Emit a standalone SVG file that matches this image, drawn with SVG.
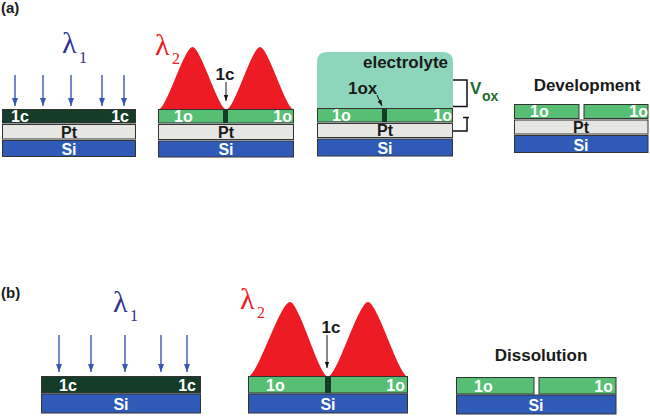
<svg xmlns="http://www.w3.org/2000/svg" width="650" height="417" viewBox="0 0 650 417">
<defs>
<marker id="bh" markerUnits="userSpaceOnUse" markerWidth="8" markerHeight="8" viewBox="0 0 8 6" refX="8" refY="3" orient="auto"><path d="M0,0 L8,3 L0,6 z" fill="#3a55b4"/></marker>
<marker id="kh" markerUnits="userSpaceOnUse" markerWidth="6" markerHeight="6" viewBox="0 0 7 5" refX="7" refY="2.5" orient="auto"><path d="M0,0 L7,2.5 L0,5 z" fill="#111"/></marker>
<style>
.t{font-family:"Liberation Sans",Arial,sans-serif;font-weight:bold}
.lw{font-size:16px;fill:#fff}
.lb{font-size:16px;fill:#1a1a1a}
.h{font-size:17px;fill:#1a1a1a}
.lam{font-family:"Liberation Serif","Times New Roman",serif;font-size:30px}
.sub{font-family:"Liberation Serif","Times New Roman",serif;font-size:16px}
.c1{fill:#143c28;stroke:#333;stroke-width:1}
.o1{fill:#57bf74;stroke:#333;stroke-width:1}
.pt{fill:#e6e6e2;stroke:#333;stroke-width:1}
.si{fill:#2e5bb8;stroke:#333;stroke-width:1}
.stripe{fill:#143c28}
.ba{stroke:#3a55b4;stroke-width:1.4;fill:none;marker-end:url(#bh)}
.ka{stroke:#111;stroke-width:1;fill:none;marker-end:url(#kh)}
.gauss{fill:#ed1c24}
.brk{stroke:#111;stroke-width:1.5;fill:none}
</style>
</defs>

<text class="t" x="1" y="13" font-size="15" fill="#1a1a1a">(a)</text>
<text class="t" x="1" y="298" font-size="15" fill="#1a1a1a">(b)</text>

<!-- Panel a1 -->
<g id="a1">
<text class="lam" x="62" y="53" fill="#2e3192">λ</text><text class="sub" x="79" y="63" fill="#2e3192">1</text>
<rect class="c1" x="2.5" y="109.5" width="133" height="13.5"/>
<rect class="pt" x="2.5" y="124.5" width="133" height="14.5"/>
<rect class="si" x="2.5" y="140.5" width="133" height="16"/>
<text class="t lw" x="11" y="121.5">1c</text>
<text class="t lw" x="129" y="121.5" text-anchor="end">1c</text>
<text class="t lb" x="69" y="137.5" text-anchor="middle">Pt</text>
<text class="t lw" x="69" y="154.5" text-anchor="middle">Si</text>
</g>

<!-- Panel a2 -->
<g id="a2">
<text class="lam" x="155" y="55" fill="#ed1c24">λ</text><text class="sub" x="172" y="64" fill="#ed1c24">2</text>
<path class="gauss" d="M158.5,109.5 C166.4,109.5 184.3,47 192.5,47 C200.7,47 218.6,109.5 226.5,109.5 C234.3,109.5 251.9,47 260,47 C268.2,47 286.1,109.5 294,109.5 Z"/>
<rect class="o1" x="158.5" y="109.5" width="135" height="13.5"/>
<rect class="stripe" x="223" y="110" width="5" height="13"/>
<rect class="pt" x="158.5" y="124.5" width="135" height="15"/>
<rect class="si" x="158.5" y="141" width="135" height="16"/>
<text class="t lw" x="174" y="121.5">1o</text>
<text class="t lw" x="292" y="121.5" text-anchor="end">1o</text>
<text class="t lb" x="226" y="137.5" text-anchor="middle">Pt</text>
<text class="t lw" x="226" y="154.5" text-anchor="middle">Si</text>
<text class="t h" x="225" y="80" text-anchor="middle" font-size="16">1c</text>
</g>

<!-- Panel a3 -->
<g id="a3">
<path d="M317,108 V62 Q317,52 327,52 H443 Q453,52 453,62 V108 Z" fill="#8ed6bb"/>
<text class="t h" x="448" y="68" text-anchor="end">electrolyte</text>
<text class="t h" x="348" y="94">1ox</text>
<rect class="o1" x="317.5" y="108.5" width="135" height="13.5"/>
<rect class="stripe" x="382" y="109" width="5" height="13"/>
<rect class="pt" x="317.5" y="123.5" width="135" height="14"/>
<rect class="si" x="317.5" y="139" width="135" height="17"/>
<text class="t lw" x="332" y="120.5">1o</text>
<text class="t lw" x="452" y="120.5" text-anchor="end">1o</text>
<text class="t lb" x="385" y="135.5" text-anchor="middle">Pt</text>
<text class="t lw" x="385" y="153.5" text-anchor="middle">Si</text>
<path class="brk" d="M453,80 H467 V106.5 H453"/>
<path class="brk" d="M463,117.5 H469 M467,117.5 V131 H453"/>
<text class="t" x="470" y="94" font-size="17" fill="#1a6b2f">V</text><text class="t" x="482" y="101" font-size="14" fill="#1a6b2f">ox</text>
</g>

<!-- Panel a4 -->
<g id="a4">
<text class="t h" x="587" y="91" text-anchor="middle">Development</text>
<rect class="o1" x="514.5" y="104.5" width="64.5" height="14"/>
<rect class="o1" x="584" y="104.5" width="64" height="14"/>
<rect class="pt" x="514.5" y="120" width="133.5" height="14"/>
<rect class="si" x="514.5" y="135.5" width="133.5" height="17"/>
<text class="t lw" x="530" y="117">1o</text>
<text class="t lw" x="648" y="117" text-anchor="end">1o</text>
<text class="t lb" x="581" y="132.5" text-anchor="middle">Pt</text>
<text class="t lw" x="581" y="150.5" text-anchor="middle">Si</text>
</g>

<!-- Panel b1 -->
<g id="b1">
<text class="lam" x="113" y="312" fill="#2e3192">λ</text><text class="sub" x="130" y="321" fill="#2e3192">1</text>
<rect class="c1" x="41.5" y="376.5" width="159" height="16.5"/>
<rect class="si" x="41.5" y="394" width="159" height="19"/>
<text class="t lw" x="59" y="390.5" font-size="17">1c</text>
<text class="t lw" x="196" y="390.5" text-anchor="end" font-size="17">1c</text>
<text class="t lw" x="121" y="409.5" text-anchor="middle" font-size="17">Si</text>
</g>

<!-- Panel b2 -->
<g id="b2">
<text class="lam" x="240" y="309" fill="#ed1c24">λ</text><text class="sub" x="257" y="318" fill="#ed1c24">2</text>
<path class="gauss" d="M248,376.5 C257.7,376.5 279.9,302 290,302 C299.2,302 319.2,376.5 328,376.5 C337.3,376.5 358.4,302 368,302 C377.6,302 398.7,376.5 408,376.5 Z"/>
<rect class="o1" x="248.5" y="376.5" width="159" height="16.5"/>
<rect class="stripe" x="325" y="377" width="6" height="16"/>
<rect class="si" x="248.5" y="394" width="159" height="19"/>
<text class="t lw" x="266" y="390.5" font-size="17">1o</text>
<text class="t lw" x="405" y="390.5" text-anchor="end" font-size="17">1o</text>
<text class="t lw" x="328" y="409.5" text-anchor="middle" font-size="17">Si</text>
<text class="t h" x="331" y="333" text-anchor="middle" font-size="16">1c</text>
</g>

<!-- Panel b3 -->
<g id="b3">
<text class="t h" x="541" y="361" text-anchor="middle">Dissolution</text>
<rect class="o1" x="456.5" y="377.5" width="77.5" height="16.5"/>
<rect class="o1" x="539" y="377.5" width="77" height="16.5"/>
<rect class="si" x="456.5" y="395" width="159.5" height="19"/>
<text class="t lw" x="474" y="391.5" font-size="17">1o</text>
<text class="t lw" x="613" y="391.5" text-anchor="end" font-size="17">1o</text>
<text class="t lw" x="536" y="410.5" text-anchor="middle" font-size="17">Si</text>
</g>

<!-- Connectors / arrows -->
<g id="connectors">
<line class="ba" x1="15" y1="75" x2="15" y2="106"/>
<line class="ba" x1="43" y1="75" x2="43" y2="106"/>
<line class="ba" x1="71" y1="75" x2="71" y2="106"/>
<line class="ba" x1="102" y1="75" x2="102" y2="106"/>
<line class="ba" x1="124" y1="75" x2="124" y2="106"/>
<line class="ba" x1="59" y1="335" x2="59" y2="372"/>
<line class="ba" x1="91" y1="335" x2="91" y2="372"/>
<line class="ba" x1="125" y1="335" x2="125" y2="372"/>
<line class="ba" x1="161" y1="335" x2="161" y2="372"/>
<line class="ba" x1="187" y1="335" x2="187" y2="372"/>
<line class="ka" x1="226" y1="82" x2="226" y2="101"/>
<line class="ka" x1="327" y1="335" x2="327" y2="368"/>
<line class="ka" x1="377" y1="95" x2="382" y2="106"/>
</g>
</svg>
